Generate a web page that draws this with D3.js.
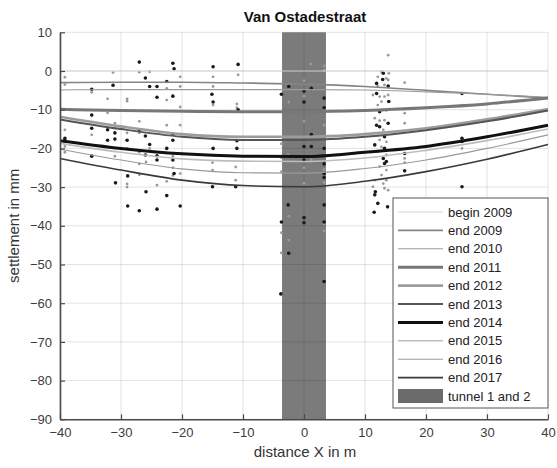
<!DOCTYPE html>
<html>
<head>
<meta charset="utf-8">
<title>Van Ostadestraat</title>
<script src="https://cdn.jsdelivr.net/npm/d3@7"></script>
<style>
body { margin: 0; background: #fff; }
text { font-family: "Liberation Sans", Arial, sans-serif; }
</style>
</head>
<body>
<script>
// settlement curves read at these x positions
var xs = [-40, -30, -20, -10, 0, 10, 20, 30, 40];

var begin2009 = [0, 0, 0, 0, 0, 0, 0, 0, 0];
var end2009 = [-3, -2.9, -2.9, -3.1, -3.4, -4, -5, -6, -7];
var end2010 = [-4.9, -4.8, -4.8, -4.8, -4.8, -4.9, -5.4, -6, -6.8];
var end2011 = [-9.9, -10.2, -10.4, -10.5, -10.5, -10.2, -9.5, -8.5, -7];
var end2012 = [-11.8, -14.3, -16.3, -17, -17, -16.3, -14.8, -12.5, -9.8];
var end2013 = [-12.5, -15, -17, -17.8, -17.8, -17, -15.3, -13, -10.2];
var end2014 = [-18, -20, -21.4, -22, -22.1, -21, -19.5, -17, -14];
var end2015 = [-18.7, -21, -22.7, -23.3, -23.4, -22.5, -20.5, -18, -15];
var end2016 = [-20.2, -23, -25.3, -26.3, -26.4, -25.2, -23, -20, -16.5];
var end2017 = [-22.6, -25.6, -28.2, -29.6, -29.9, -28.5, -26, -22.8, -19];

var seriesNames = ["begin 2009", "end 2009", "end 2010", "end 2011", "end 2012",
                   "end 2013", "end 2014", "end 2015", "end 2016", "end 2017"];
var seriesValues = [begin2009, end2009, end2010, end2011, end2012,
                    end2013, end2014, end2015, end2016, end2017];
var seriesColors = ["#d4d4d4", "#858585", "#9a9a9a", "#777777", "#9c9c9c",
                    "#555555", "#111111", "#bdbdbd", "#999999", "#3a3a3a"];
var seriesWidths = [1, 1.6, 1.1, 3, 2.6, 2, 3, 1.6, 1.1, 1.6];

var tunnel = [-3.6, 3.6];

// measured points [x, settlement]
var blackDots = [
  [-39.2,-17.4],[-39.2,-18],[-34.8,-4.7],[-34.8,-11.4],[-34.8,-14.8],[-34.8,-22],[-32.2,-15.2],[-32.2,-17.9],
  [-31.3,-3.7],[-31,-16],[-31,-17.6],[-30.9,-28.9],[-29,-17.9],[-28.9,-27.1],[-28.9,-34.9],[-27,2.3],
  [-27,-15.2],[-27,-36.1],[-26,-1.8],[-26,-16.8],[-26,-21.7],[-25.9,-31.2],[-25.3,-4],[-25.3,-19],
  [-24.1,-4],[-24.1,-6.8],[-24.1,-21.9],[-24.1,-23],[-24.1,-35.7],[-22.5,-2.7],[-22.5,-20],[-22.5,-32.2],
  [-21.5,2],[-21.3,0.6],[-21.5,-6.5],[-21.5,-16.3],[-21.5,-17.9],[-21.5,-23],[-21.3,-26.5],[-20.3,-34.9],
  [-14.9,1.1],[-15.1,-6],[-14.9,-8],[-14.9,-20],[-15,-29.9],[-10.8,1.7],[-10.8,-10],[-11,-18],[-11,-20],[-11.2,-29.9],
  [-3.7,-6],[-3.7,-39],[-3.8,-57.6],[-2.5,-4],[-2.6,-34.6],[-2.5,-47.1],[0,-5.2],[0,-8],[0,-19.5],[0,-23],
  [0,-37.9],[0,-39.2],[1.2,-4.5],[1.2,-16.4],[1.2,-19.5],[3.3,-7],[3.3,-9.5],[3.3,-20],[3.3,-24],[3.3,-26.5],
  [3.3,-27.5],[3.3,-34.6],[3.3,-39],[3.3,-54.4],
  [13,-0.6],[12.9,-2.2],[11.9,-3.2],[13.8,-3.9],[11.9,-5.8],[13.9,-7.9],[12.4,-10.5],[13.8,-13.5],[11.9,-14],
  [12.4,-14.4],[13.2,-17],[11.6,-19.1],[13.2,-20],[13,-22.6],[13.5,-23.4],[13.2,-23.9],[11.7,-31.2],[11.6,-32],
  [12.1,-34.2],[13.7,-35.1],[11.5,-36.5],
  [16.5,-21.3],[16.5,-25.8],[25.9,-5.8],[25.9,-17.4],[25.9,-18.2],[25.9,-29.9]
];
var grayDots = [
  [-39.2,-1.6],[-39.2,-3.5],[-39.2,-15.2],[-39.2,-19.5],[-39.2,-21],[-34.8,-5.5],[-34.8,-16.5],[-32.2,-7.2],
  [-32.2,-10.8],[-31.3,-0.4],[-31,-13.5],[-31,-22],[-29,-7.2],[-29,-7.8],[-29,-16],[-29,-20],[-29,-29.2],
  [-29,-30],[-27,-0.3],[-27,-16],[-27,-21],[-27,-24],[-27,-26.8],[-27,-13],[-25.9,-23.5],[-25.3,-0.2],
  [-25.3,-20],[-24.1,-29.5],[-22.5,-4.5],[-22.5,-7.5],[-22.5,-14],[-22.5,-28.5],[-21.5,-22],[-21.5,-25],
  [-21.5,-27],[-20.3,-1.5],[-20.3,-4],[-20.3,-9.3],[-20.3,-14],[-20.3,-26.5],[-14.9,-1.5],[-14.9,-4],
  [-14.9,-8.8],[-15,-23.7],[-15,-25.6],[-10.8,-1],[-11,-8.5],[-11,-9.5],[-11.2,-24.8],[-11.2,-28.2],
  [-3.7,-18.8],[-3.7,-22.4],[-3.7,-26],[-3.7,-41.8],[-3.7,-47],[-2.5,-8],[-2.6,-21.6],[-2.5,-37.5],
  [-2.5,-43.7],[0,-2.5],[0,-6.5],[0,-13],[0,-22],[0,-25],[0,-29],[1.1,1.8],[1.2,-23],[3.3,1.3],[3.3,0.2],
  [3.3,-10.2],[3.3,-14],[3.3,-25.5],[3.3,-28.8],[3.3,-39.5],[3.3,-41.3],
  [13.8,4.1],[12.7,-0.2],[12.1,-1.5],[13.5,-1.9],[13.9,-0.6],[13.8,-2.3],[12.1,-4],[13.2,-3.6],[11.3,-6.2],
  [12.4,-6.6],[13.2,-6.6],[13.8,-6.2],[12.7,-7.9],[12.1,-8.8],[13,-10.1],[13.5,-10.2],[11.6,-12.2],
  [12.4,-12.8],[13.2,-12.7],[13,-15.2],[12.1,-16.1],[12.4,-17.8],[13.5,-18.3],[12.7,-19.6],[12.1,-20.8],
  [13.5,-21.7],[12.4,-24.7],[13.5,-25.6],[12.7,-26.9],[11.6,-28.2],[13.5,-28.2],[13,-29.1],[11.3,-29.9],
  [13.2,-30.3],[13.8,-30.8],
  [16.5,-3],[16.5,-10.9],[16.5,-13.5],[16.5,-22.6],[16.5,-23.7],[25.9,-8.8],[25.9,-20]
];

var xTicks = [-40, -30, -20, -10, 0, 10, 20, 30, 40];
var yTicks = [10, 0, -10, -20, -30, -40, -50, -60, -70, -80, -90];

var W = 557, H = 468;
var svg = d3.select("body").append("svg").attr("width", W).attr("height", H);

var x = d3.scaleLinear().domain([-40, 40]).range([60, 548]);
var y = d3.scaleLinear().domain([-90, 10]).range([419.3, 32.3]);

// tunnel band
svg.append("rect")
  .attr("x", x(tunnel[0])).attr("y", y(10))
  .attr("width", x(tunnel[1]) - x(tunnel[0]))
  .attr("height", y(-90) - y(10))
  .style("fill", "#7b7b7b");

// grid
svg.selectAll(".gx").data(xTicks).enter().append("line")
  .attr("x1", d => x(d)).attr("x2", d => x(d))
  .attr("y1", y(10)).attr("y2", y(-90))
  .style("stroke", "rgba(0,0,0,0.11)");
svg.selectAll(".gy").data(yTicks).enter().append("line")
  .attr("x1", x(-40)).attr("x2", x(40))
  .attr("y1", d => y(d)).attr("y2", d => y(d))
  .style("stroke", "rgba(0,0,0,0.11)");

// dots
svg.selectAll(".gdot").data(grayDots).enter().append("circle")
  .attr("cx", d => x(d[0])).attr("cy", d => y(d[1])).attr("r", 1.4)
  .style("fill", "#9a9a9a");
svg.selectAll(".bdot").data(blackDots).enter().append("circle")
  .attr("cx", d => x(d[0])).attr("cy", d => y(d[1])).attr("r", 1.8)
  .style("fill", "#1a1a1a");

// settlement lines
var line = d3.line()
  .x((d, i) => x(xs[i]))
  .y(d => y(d))
  .curve(d3.curveMonotoneX);

seriesValues.forEach(function(vals, k){
  svg.append("path").attr("d", line(vals))
    .style("fill", "none")
    .style("stroke", seriesColors[k])
    .style("stroke-width", seriesWidths[k]);
});

// axes
var axisColor = "#4a4a4a";
var yAxis = svg.append("g").attr("transform", "translate(" + x(-40) + ",0)")
  .call(d3.axisLeft(y).tickValues(yTicks).tickSizeInner(-5).tickSizeOuter(0).tickPadding(8));
var xAxis = svg.append("g").attr("transform", "translate(0," + y(-90) + ")")
  .call(d3.axisBottom(x).tickValues(xTicks).tickSizeInner(-5).tickSizeOuter(0).tickPadding(8));
[yAxis, xAxis].forEach(function(a){
  a.select(".domain").style("stroke", axisColor).style("stroke-width", 1.6);
  a.selectAll(".tick line").style("stroke", axisColor).style("stroke-width", 1.2);
  a.selectAll(".tick text").style("fill", "#3c3c3c").style("font-size", "13px")
    .style("font-family", "'Liberation Sans', Arial, sans-serif");
});

// titles
svg.append("text").attr("x", 305).attr("y", 22).attr("text-anchor", "middle")
  .style("font-size", "15px").style("font-weight", "bold").style("fill", "#111")
  .text("Van Ostadestraat");
svg.append("text").attr("x", 305).attr("y", 457).attr("text-anchor", "middle")
  .style("font-size", "15px").style("fill", "#333")
  .text("distance X in m");
svg.append("text").attr("transform", "translate(19," + y(-40) + ") rotate(-90)")
  .attr("text-anchor", "middle")
  .style("font-size", "15px").style("fill", "#333")
  .text("settlement in mm");

// legend
var lg = svg.append("g");
lg.append("rect").attr("x", 393).attr("y", 198).attr("width", 155).attr("height", 210)
  .style("fill", "#fff").style("stroke", "#555").style("stroke-width", 1);
var rowY = function(i){ return 212 + i * 18.4; };
seriesNames.forEach(function(name, k){
  lg.append("line").attr("x1", 398).attr("x2", 443)
    .attr("y1", rowY(k)).attr("y2", rowY(k))
    .style("stroke", seriesColors[k]).style("stroke-width", seriesWidths[k]);
  lg.append("text").attr("x", 448).attr("y", rowY(k)).attr("dy", "0.36em")
    .style("font-size", "13px").style("fill", "#222").text(name);
});
lg.append("rect").attr("x", 398).attr("y", rowY(10) - 7).attr("width", 45).attr("height", 14)
  .style("fill", "#6b6b6b");
lg.append("text").attr("x", 448).attr("y", rowY(10)).attr("dy", "0.36em")
  .style("font-size", "13px").style("fill", "#222").text("tunnel 1 and 2");
</script>
</body>
</html>
